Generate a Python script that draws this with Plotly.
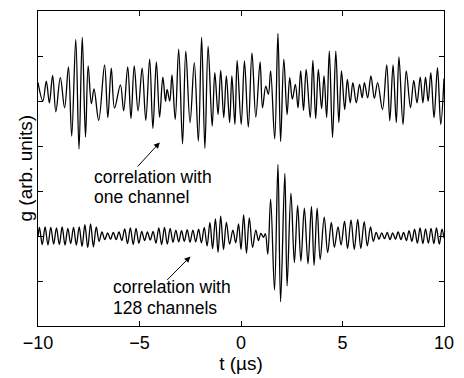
import plotly.graph_objects as go

# Top trace: correlation with one channel (extrema)
top_t = [-10.00, -9.76, -9.59, -9.44, -9.28, -9.12, -8.90, -8.69, -8.50, -8.34,
         -8.14, -7.98, -7.82, -7.66, -7.53, -7.37, -7.24, -7.01, -6.72, -6.56,
         -6.39, -6.23, -5.94, -5.78, -5.58, -5.42, -5.26, -5.07, -4.87, -4.69,
         -4.50, -4.34, -4.17, -4.01, -3.85, -3.72, -3.64, -3.51, -3.40, -3.24,
         -3.07, -2.88, -2.72, -2.51, -2.30, -2.10, -1.94, -1.78, -1.62, -1.42,
         -1.29, -1.13, -1.00, -0.85, -0.72, -0.56, -0.45, -0.30, -0.19, 0.01,
         0.17, 0.36, 0.54, 0.73, 0.94, 1.06, 1.22, 1.35, 1.46, 1.66,
         1.82, 1.95, 2.11, 2.27, 2.40, 2.53, 2.68, 2.81, 2.94, 3.08,
         3.21, 3.41, 3.54, 3.68, 3.81, 3.97, 4.09, 4.22, 4.35, 4.51,
         4.67, 4.82, 4.95, 5.11, 5.24, 5.38, 5.51, 5.68, 5.84, 5.97,
         6.08, 6.24, 6.40, 6.57, 6.73, 6.97, 7.18, 7.33, 7.49, 7.65,
         7.78, 7.98, 8.14, 8.35, 8.51, 8.67, 8.83, 8.96, 9.09, 9.22,
         9.35, 9.51, 9.68, 9.84, 10.00]
top_g = [5.41, 5.00, 5.44, 4.96, 5.57, 4.76, 5.52, 4.85, 5.76, 4.22,
         6.37, 3.93, 6.42, 4.20, 5.78, 4.94, 5.27, 4.57, 5.80, 4.63,
         5.73, 4.84, 5.36, 4.78, 5.76, 4.61, 5.78, 4.78, 5.73, 4.57,
         5.93, 4.39, 5.87, 4.64, 5.53, 4.99, 5.26, 5.00, 5.58, 4.59,
         6.15, 4.05, 6.11, 4.52, 5.85, 4.11, 6.42, 3.95, 6.22, 4.44,
         5.63, 4.70, 5.68, 4.63, 5.56, 4.52, 5.56, 4.48, 5.90, 4.48,
         5.89, 4.42, 6.07, 4.64, 5.87, 4.85, 5.33, 5.15, 5.67, 4.16,
         6.50, 4.10, 5.93, 4.70, 5.52, 5.04, 5.37, 4.85, 5.67, 4.79,
         5.70, 4.63, 5.90, 4.61, 5.70, 4.83, 5.56, 4.63, 6.11, 4.19,
         6.11, 4.52, 5.67, 4.81, 5.48, 4.96, 5.41, 4.96, 5.37, 5.07,
         5.41, 5.07, 5.56, 5.06, 5.41, 4.81, 5.80, 4.56, 5.80, 4.52,
         5.98, 4.48, 5.67, 4.85, 5.46, 4.96, 5.53, 4.96, 5.53, 4.99,
         5.63, 4.63, 5.74, 4.48, 5.50]

# Bottom trace: correlation with 128 channels (extrema)
bot_t = [-10.00, -9.93, -9.79, -9.65, -9.51, -9.37, -9.23, -9.09, -8.95, -8.81,
         -8.67, -8.53, -8.39, -8.25, -8.11, -7.97, -7.83, -7.69, -7.55, -7.41,
         -7.27, -7.13, -6.99, -6.85, -6.71, -6.57, -6.43, -6.29, -6.15, -6.01,
         -5.87, -5.73, -5.59, -5.45, -5.31, -5.17, -5.03, -4.89, -4.75, -4.61,
         -4.47, -4.33, -4.19, -4.05, -3.91, -3.77, -3.63, -3.49, -3.35, -3.21,
         -3.07, -2.93, -2.79, -2.65, -2.51, -2.37, -2.23, -2.09, -1.95, -1.81,
         -1.67, -1.53, -1.40, -1.26, -1.13, -1.00, -0.86, -0.72, -0.56, -0.40,
         -0.26, -0.12, 0.00, 0.13, 0.27, 0.41, 0.57, 0.73, 0.86, 0.98,
         1.10, 1.20, 1.32, 1.46, 1.65, 1.82, 1.95, 2.16, 2.27, 2.46,
         2.63, 2.79, 2.95, 3.12, 3.30, 3.47, 3.60, 3.75, 3.90, 4.10,
         4.27, 4.45, 4.60, 4.78, 4.93, 5.10, 5.25, 5.42, 5.58, 5.75,
         5.90, 6.07, 6.22, 6.38, 6.52, 6.66, 6.80, 6.93, 7.07, 7.20,
         7.34, 7.47, 7.61, 7.74, 7.88, 8.01, 8.15, 8.28, 8.42, 8.55,
         8.69, 8.82, 8.96, 9.09, 9.23, 9.36, 9.50, 9.63, 9.77, 9.90,
         10.00]
bot_g = [1.98, 2.19, 1.81, 2.20, 1.80, 2.19, 1.82, 2.18, 1.81, 2.20,
         1.80, 2.17, 1.83, 2.19, 1.80, 2.20, 1.77, 2.25, 1.74, 2.27,
         1.76, 2.20, 1.88, 2.09, 1.92, 2.07, 1.93, 2.08, 1.92, 2.09,
         1.90, 2.16, 1.83, 2.18, 1.81, 2.17, 1.84, 2.10, 1.90, 2.09,
         1.91, 2.10, 1.84, 2.18, 1.81, 2.19, 1.82, 2.17, 1.86, 2.13,
         1.87, 2.12, 1.88, 2.14, 1.86, 2.13, 1.87, 2.15, 1.85, 2.19,
         1.78, 2.30, 1.72, 2.38, 1.64, 2.44, 1.70, 2.31, 1.82, 2.13,
         1.85, 2.27, 1.70, 2.47, 1.62, 2.40, 1.75, 2.13, 1.90, 2.06,
         1.97, 2.05, 1.60, 2.82, 0.80, 3.59, 0.54, 3.39, 0.89, 2.95,
         1.41, 2.68, 1.44, 2.62, 1.38, 2.66, 1.35, 2.62, 1.48, 2.42,
         1.63, 2.30, 1.75, 2.20, 1.80, 2.33, 1.72, 2.36, 1.70, 2.37,
         1.72, 2.32, 1.78, 2.20, 1.88, 2.08, 1.93, 2.07, 1.94, 2.08,
         1.92, 2.07, 1.93, 2.09, 1.92, 2.08, 1.90, 2.12, 1.88, 2.15,
         1.84, 2.18, 1.83, 2.16, 1.84, 2.17, 1.83, 2.18, 1.82, 2.15,
         1.95]

x_ticks = [-10, -5, 0, 5, 10]
x_labels = ["\u221210", "\u22125", "0", "5", "10"]
y_ticks = [1, 2, 3, 4, 5, 6]

FONT = "Liberation Sans, Arial, Helvetica, sans-serif"
LINE = dict(color="black", width=1.3, shape="spline", smoothing=1.0)

fig = go.Figure()
fig.add_trace(go.Scatter(x=top_t, y=top_g, mode="lines", line=LINE,
                         hoverinfo="skip", showlegend=False))
fig.add_trace(go.Scatter(x=bot_t, y=bot_g, mode="lines", line=LINE,
                         hoverinfo="skip", showlegend=False))

fig.update_layout(
    width=464, height=378,
    margin=dict(l=38, r=14, t=10, b=51),
    paper_bgcolor="white", plot_bgcolor="white",
    font=dict(family=FONT, size=18, color="black"),
    showlegend=False,
)
fig.update_xaxes(range=[-10, 10], tickvals=x_ticks, ticktext=x_labels,
                 ticks="inside", ticklen=5, tickcolor="black", tickwidth=1,
                 showline=True, linecolor="black", linewidth=1, mirror="ticks",
                 showgrid=False, zeroline=False,
                 tickfont=dict(family=FONT, size=18),
                 title=dict(text="t (\u00b5s)", font=dict(family=FONT, size=19), standoff=2))
fig.update_yaxes(range=[0, 7], tickvals=y_ticks, showticklabels=False,
                 ticks="inside", ticklen=5, tickcolor="black", tickwidth=1,
                 showline=True, linecolor="black", linewidth=1, mirror="ticks",
                 showgrid=False, zeroline=False)

# y-axis title placed as rotated text
fig.add_annotation(x=-0.032, y=0.5, xref="paper", yref="paper", text="g (arb. units)",
                   textangle=-90, showarrow=False, xanchor="center", yanchor="middle",
                   font=dict(family=FONT, size=19, color="black"))

ann_font = dict(family=FONT, size=17.5, color="black")
for txt, xx, yy in [("correlation with", -7.35, 3.31), ("one channel", -7.35, 2.87),
                    ("correlation with", -6.38, 0.86), ("128 channels", -6.38, 0.40)]:
    fig.add_annotation(x=xx, y=yy, xref="x", yref="y", text=txt, showarrow=False,
                       xanchor="left", yanchor="middle", font=ann_font)
for (xt, yt, xs, ys) in [(-4.0, 4.08, -5.16, 3.51), (-2.49, 1.545, -3.71, 0.99)]:
    fig.add_annotation(x=xt, y=yt, ax=xs, ay=ys, xref="x", yref="y", axref="x", ayref="y",
                       text="", showarrow=True, arrowhead=2, arrowsize=1.2, arrowwidth=1,
                       arrowcolor="black")

fig.write_html("out.html")
